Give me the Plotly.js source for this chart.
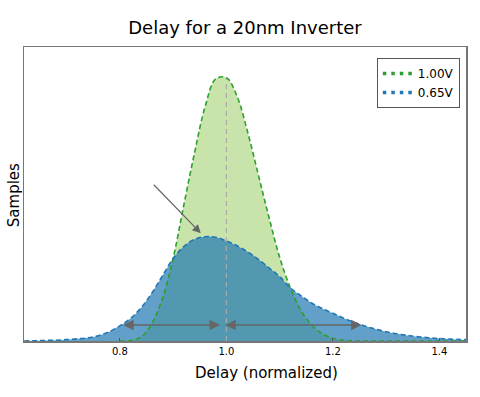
<!DOCTYPE html>
<html>
<head>
<meta charset="utf-8">
<script src="https://cdn.plot.ly/plotly-3.0.1.min.js"></script>
<style>html,body{margin:0;padding:0;background:#fff}#chart{width:480px;height:397px}</style>
</head>
<body>
<div id="chart"></div>
<script>
// Data (normalized to the 1.00V peak)
var greenX = [0.80, 0.82, 0.84, 0.86, 0.88, 0.90, 0.92, 0.94, 0.96, 0.98, 1.00, 1.02, 1.04, 1.06, 1.08, 1.10, 1.12, 1.14, 1.16, 1.18, 1.20, 1.22, 1.24, 1.30, 1.45];
var greenY = [0.000, 0.002, 0.015, 0.065, 0.16, 0.31, 0.51, 0.705, 0.88, 0.985, 0.99, 0.92, 0.785, 0.625, 0.465, 0.315, 0.20, 0.115, 0.06, 0.028, 0.010, 0.003, 0.000, 0.000, 0.000];
var blueX = [0.62, 0.64, 0.66, 0.68, 0.70, 0.72, 0.74, 0.76, 0.78, 0.80, 0.82, 0.84, 0.86, 0.88, 0.90, 0.92, 0.94, 0.96, 0.98, 1.00, 1.02, 1.04, 1.06, 1.08, 1.10, 1.12, 1.14, 1.16, 1.18, 1.20, 1.22, 1.24, 1.26, 1.28, 1.30, 1.32, 1.34, 1.36, 1.38, 1.40, 1.42, 1.45];
var blueY = [0.000, 0.001, 0.002, 0.003, 0.005, 0.008, 0.012, 0.020, 0.035, 0.057, 0.085, 0.125, 0.18, 0.245, 0.31, 0.355, 0.382, 0.392, 0.39, 0.376, 0.358, 0.335, 0.307, 0.275, 0.242, 0.20, 0.17, 0.143, 0.122, 0.104, 0.086, 0.070, 0.056, 0.045, 0.035, 0.027, 0.021, 0.016, 0.012, 0.009, 0.007, 0.005];
var seriesNames = ['1.00V', '0.65V'];
var tickVals = [0.8, 1.0, 1.2, 1.4];
var tickText = ['0.8', '1.0', '1.2', '1.4'];

var F = 'DejaVu Sans, sans-serif';
var traces = [
  {x: greenX, y: greenY, type: 'scatter', mode: 'lines', fill: 'tozeroy', fillcolor: '#c9e4ab',
   line: {width: 0, shape: 'spline'}, showlegend: false, hoverinfo: 'skip'},
  {x: blueX, y: blueY, type: 'scatter', mode: 'lines', fill: 'tozeroy', fillcolor: 'rgba(31,119,180,0.7)',
   line: {width: 0, shape: 'spline'}, showlegend: false, hoverinfo: 'skip'},
  {x: greenX, y: greenY, type: 'scatter', mode: 'lines', name: seriesNames[0],
   line: {color: '#2ca02c', width: 1.6, dash: '5px,3px', shape: 'spline'}, showlegend: false},
  {x: blueX, y: blueY, type: 'scatter', mode: 'lines', name: seriesNames[1],
   line: {color: '#1f77b4', width: 1.6, dash: '5px,3px', shape: 'spline'}, showlegend: false},
  {x: [null], y: [null], type: 'scatter', mode: 'lines', name: seriesNames[0],
   line: {color: '#2ca02c', width: 3.5, dash: '3.5px,5px'}},
  {x: [null], y: [null], type: 'scatter', mode: 'lines', name: seriesNames[1],
   line: {color: '#1f77b4', width: 3.5, dash: '3.5px,5px'}}
];

var arrowColor = '#666666';
var layout = {
  width: 480, height: 397,
  margin: {l: 24, r: 14, t: 47, b: 56},
  paper_bgcolor: '#ffffff', plot_bgcolor: '#ffffff',
  font: {family: F, color: '#000'},
  title: {text: 'Delay for a 20nm Inverter', font: {family: F, size: 18, color: '#000'},
          x: 0.5, xref: 'paper', xanchor: 'center', y: 0.93, yanchor: 'middle'},
  xaxis: {range: [0.62, 1.45], tickvals: tickVals, ticktext: tickText, showgrid: false, zeroline: false,
          showline: true, mirror: true, linecolor: '#777', linewidth: 1.5,
          ticks: 'inside', ticklen: 3, tickcolor: '#555',
          tickfont: {family: F, size: 10, color: '#000'}},
  yaxis: {range: [0, 1.105], showticklabels: false, showgrid: false, zeroline: false, ticks: '',
          showline: true, mirror: true, linecolor: '#777', linewidth: 1.5},
  legend: {x: 0.986, xanchor: 'right', y: 0.963, yanchor: 'top', bordercolor: '#555', borderwidth: 1,
           bgcolor: '#fff', font: {family: F, size: 12, color: '#000'}, itemwidth: 30, tracegroupgap: 0},
  shapes: [
    {type: 'line', xref: 'x', yref: 'y', x0: 1.0, x1: 1.0, y0: 0, y1: 0.985,
     line: {color: '#aaaaaa', width: 1.2, dash: '5px,4px'}}
  ],
  annotations: [
    {text: 'Delay (normalized)', xref: 'paper', yref: 'paper', x: 0.548, y: -0.108, xanchor: 'center', yanchor: 'middle',
     showarrow: false, font: {family: F, size: 15, color: '#000'}},
    {text: 'Samples', xref: 'paper', yref: 'paper', x: -0.022, y: 0.497, xanchor: 'center', yanchor: 'middle',
     textangle: -90, showarrow: false, font: {family: F, size: 15, color: '#000'}},
    {x: 0.806, y: 0.06, ax: 0.991, ay: 0.06, xref: 'x', yref: 'y', axref: 'x', ayref: 'y', text: '',
     showarrow: true, arrowhead: 2, startarrowhead: 2, arrowside: 'end+start', arrowsize: 1.4, startarrowsize: 1.4,
     arrowwidth: 1.5, arrowcolor: arrowColor},
    {x: 1.254, y: 0.06, ax: 0.995, ay: 0.06, xref: 'x', yref: 'y', axref: 'x', ayref: 'y', text: '',
     showarrow: true, arrowhead: 2, startarrowhead: 2, arrowside: 'end+start', arrowsize: 1.4, startarrowsize: 1.4,
     arrowwidth: 1.5, arrowcolor: arrowColor},
    {x: 0.952, y: 0.405, ax: 0.861, ay: 0.593, xref: 'x', yref: 'y', axref: 'x', ayref: 'y', text: '',
     showarrow: true, arrowhead: 2, arrowsize: 1.4, arrowwidth: 1.2, arrowcolor: arrowColor}
  ]
};
Plotly.newPlot('chart', traces, layout, {displayModeBar: false, staticPlot: true});
</script>
</body>
</html>
